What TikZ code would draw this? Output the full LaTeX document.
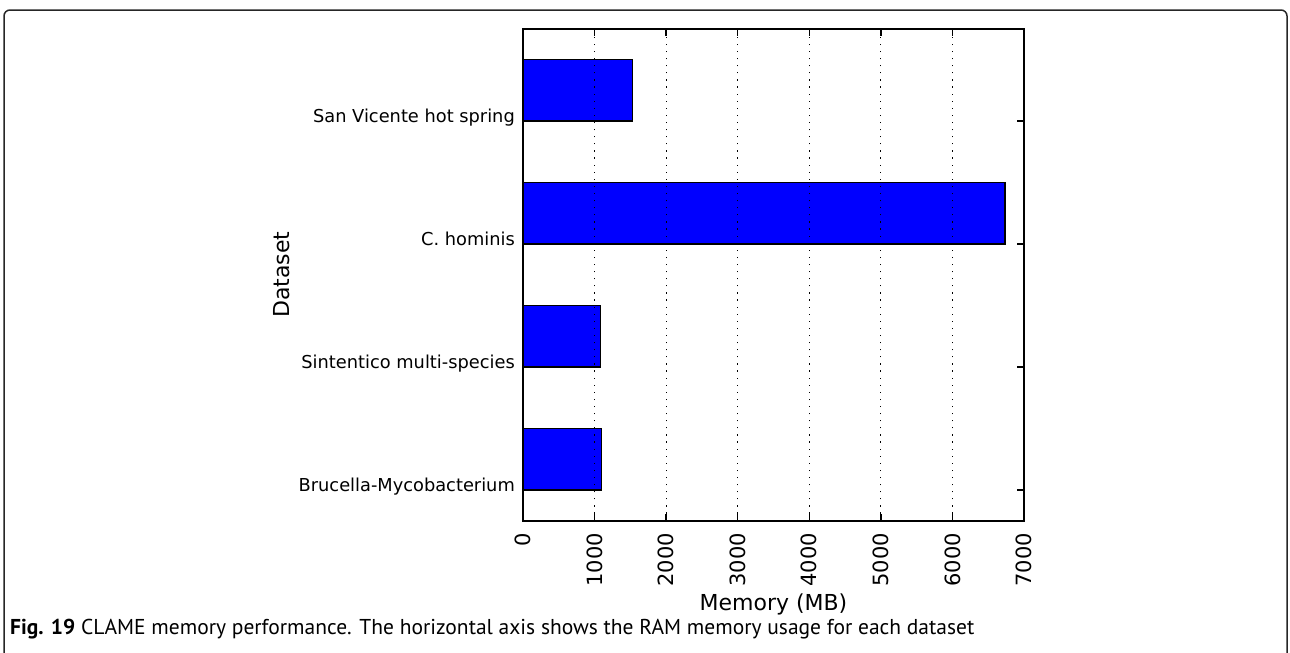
\documentclass[tikz,border=0pt]{standalone}
\usepackage{fontspec}
\setmainfont{DejaVu Sans}
\newfontfamily\capfont{PT Sans}
\usetikzlibrary{calc}
\begin{document}
\begin{tikzpicture}[x=1pt,y=-1pt,
	membar/.style={fill=blue,draw=black,line width=1.5pt},
	gridline/.style={black,line width=1pt,dash pattern=on 1.2pt off 5.9pt},
	tickmark/.style={black,line width=1.5pt},
	ylab/.style={font=\fontsize{17.8}{20}\selectfont,inner sep=0pt,anchor=base east},
	xlab/.style={font=\fontsize{21}{24}\selectfont,inner sep=0pt,anchor=east,rotate=90},
	axlab/.style={font=\fontsize{22}{26}\selectfont,inner sep=0pt}]
	\useasboundingbox (0,0) rectangle (1290,653);
	% Rahmen
	\draw[black!85,line width=1.5pt,rounded corners=6pt] (4,10) rectangle (1287,662);
	% Diagramm: x in MB, y in Datensaetzen
	\begin{scope}[shift={(523,490)},x=0.07157pt,y=123pt]
		% Balken
		\draw[membar] (0,0) rectangle (1100,0.5);
		\draw[membar] (0,1) rectangle (1080,1.5);
		\draw[membar] (0,2) rectangle (6734,2.5);
		\draw[membar] (0,3) rectangle (1530,3.5);
		% Gitter
		\foreach \v in {1000,2000,...,6000}
			\draw[gridline] (\v,-0.25) -- (\v,3.75);
		% Achsen
		\draw[black,line width=2pt] (0,-0.25) rectangle (7000,3.75);
		\foreach \v in {0,1000,...,7000} {
			\draw[tickmark] (\v,-0.25) -- ++(0pt,7pt);
			\draw[tickmark] (\v,3.75) -- ++(0pt,-7pt);
			\node[xlab] (x\v) at ($(\v,-0.25)+(0,-12pt)$) {\v};
		}
		\foreach \i/\name in {0/Brucella-Mycobacterium,1/Sintentico multi-species,2/C. hominis,3/San Vicente hot spring} {
			\draw[tickmark] (7000,\i) -- ++(-7pt,0pt);
			\draw[tickmark] (0,\i) -- ++(7pt,0pt);
			\node[ylab] (y\i) at ($(0,\i)+(-8pt,-1pt)$) {\name};
		}
		\node[axlab,anchor=north] (xtitle) at ($(3500,-0.25)+(0,-73pt)$) {Memory (MB)};
		\node[axlab,rotate=90] (ytitle) at ($(0,1.75)+(-241pt,0)$) {Dataset};
	\end{scope}
	% Bildunterschrift
	\node[inner sep=0pt,anchor=base west,font=\capfont\fontsize{21.5}{24}\selectfont] (caption) at (10,634)
		{\textbf{Fig. 19} CLAME memory performance. The horizontal axis shows the RAM memory usage for each dataset};
\end{tikzpicture}
\end{document}
